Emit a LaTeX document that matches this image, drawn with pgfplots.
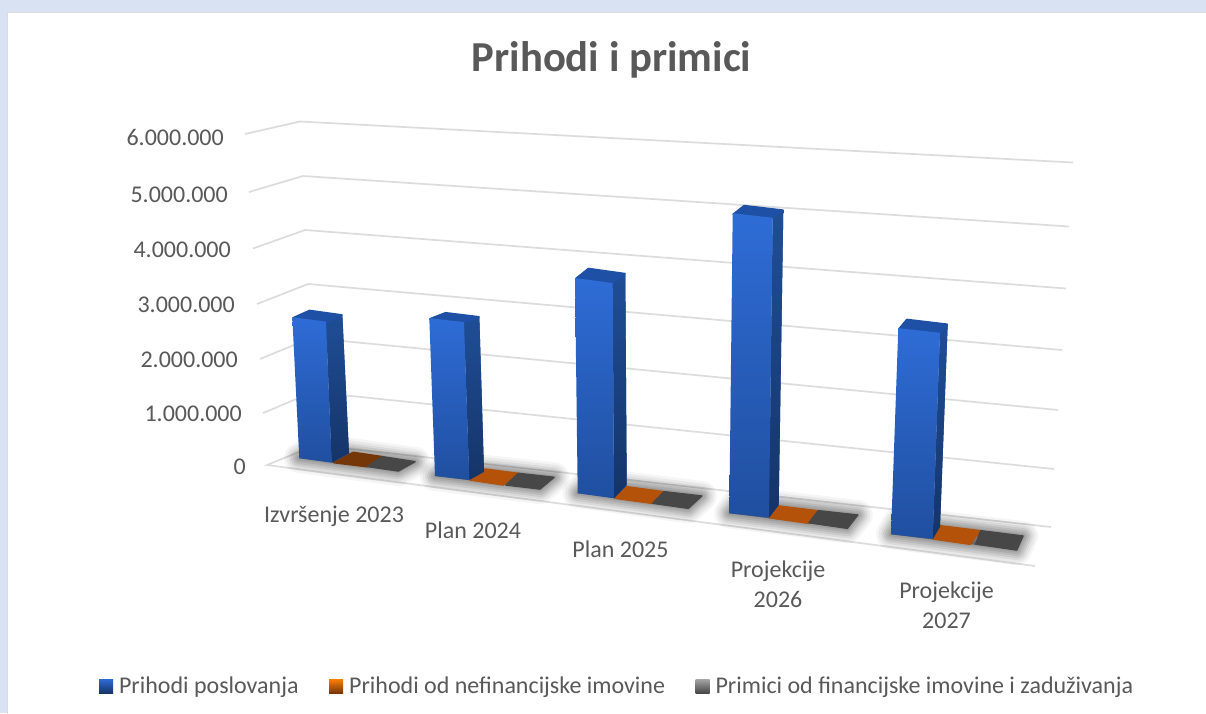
\documentclass[border=0pt]{standalone}
\usepackage{fontspec}
\setmainfont{Carlito}
\usepackage{pgfplots}
\pgfplotsset{compat=1.18}
\definecolor{txt}{HTML}{595959}
\definecolor{gridc}{HTML}{DCDCDC}
\definecolor{outer}{HTML}{D9E2F3}
\definecolor{fT}{HTML}{2E6CD6}
\definecolor{fB}{HTML}{204F9F}
\definecolor{sT}{HTML}{1F4E97}
\definecolor{sB}{HTML}{153468}
\definecolor{capc}{HTML}{1E50A6}
\definecolor{org}{HTML}{B5520A}
\definecolor{orgd}{HTML}{753608}
\definecolor{gry}{HTML}{474747}
% value in millions (#1), pixels per million on that bar's depth (#2)
\newcommand\setbar[2]{\pgfmathsetmacro\hh{#1*#2}}
% BLx BLy BRx BRy backx backy TLx TRx topbackx
\newcommand\drawbar[9]{%
  \pgfmathsetmacro\pa{#2-\hh}\pgfmathsetmacro\pb{#4-\hh}\pgfmathsetmacro\pc{#6-\hh*0.985}%
  \pgfmathsetmacro\pd{#7+#9-#8}\pgfmathsetmacro\pe{\pa+\pc-\pb}%
  \addplot[forget plot,fill=sT,draw=none,top color=sT,bottom color=sB] coordinates {(#8,\pb)(#9,\pc)(#5,#6)(#3,#4)} --cycle;
  \addplot[forget plot,fill=capc,draw=capc,line width=2.5pt,line join=round] coordinates {(#7+1,\pa+1)(\pd+1,\pe+1)(#9-1,\pc+1)(#8-1,\pb)} --cycle;
  \addplot[forget plot,draw=none,top color=fT,bottom color=fB] coordinates {(#7,\pa)(#8,\pb)(#3,#4)(#1,#2)} --cycle;
}
\newcommand\flatbar[9]{%
  \addplot[forget plot,fill=#1,draw=#1,line width=1.5pt,line join=round] coordinates {(#2,#3)(#4,#5)(#6,#7)(#8,#9)} --cycle;
}
\newcommand\barshadow[8]{%
  \addplot[forget plot,fill=black,fill opacity=.35,draw=none] coordinates {(#1,#2)(#3,#4)(#5,#6)(#7,#8)} --cycle;
  \addplot[forget plot,draw=black,draw opacity=.04,line width=30pt,line join=round] coordinates {(#1,#2)(#3,#4)(#5,#6)(#7,#8)} --cycle;
  \addplot[forget plot,draw=black,draw opacity=.05,line width=25pt,line join=round] coordinates {(#1,#2)(#3,#4)(#5,#6)(#7,#8)} --cycle;
  \addplot[forget plot,draw=black,draw opacity=.06,line width=20pt,line join=round] coordinates {(#1,#2)(#3,#4)(#5,#6)(#7,#8)} --cycle;
  \addplot[forget plot,draw=black,draw opacity=.07,line width=16pt,line join=round] coordinates {(#1,#2)(#3,#4)(#5,#6)(#7,#8)} --cycle;
  \addplot[forget plot,draw=black,draw opacity=.07,line width=12pt,line join=round] coordinates {(#1,#2)(#3,#4)(#5,#6)(#7,#8)} --cycle;
  \addplot[forget plot,draw=black,draw opacity=.08,line width=8pt,line join=round] coordinates {(#1,#2)(#3,#4)(#5,#6)(#7,#8)} --cycle;
  \addplot[forget plot,draw=black,draw opacity=.08,line width=4pt,line join=round] coordinates {(#1,#2)(#3,#4)(#5,#6)(#7,#8)} --cycle;
}
\begin{document}
\begin{tikzpicture}
\begin{axis}[
  scale only axis, width=1206pt, height=713pt,
  xmin=0, xmax=1206, ymin=0, ymax=713, y dir=reverse,
  hide axis, clip=true,
  legend columns=3,
  legend style={at={(axis cs:99,686)},anchor=west,draw=none,fill=none,
    font=\fontsize{24}{28}\selectfont\color{txt},
    /tikz/every even column/.append style={column sep=28.5pt},
    /tikz/every odd column/.append style={column sep=4pt},
    inner sep=0pt,outer sep=0pt},
]
% page background
\addplot[forget plot,fill=outer,draw=none] coordinates {(0,0)(1206,0)(1206,713)(0,713)} --cycle;
\addplot[forget plot,fill=white,draw=gridc,line width=1pt] coordinates {(7,12)(1210,12)(1210,720)(7,720)} --cycle;
% gridlines
\addplot[forget plot,gridc,line width=1.7pt] coordinates {(245,134)(300,121.5)(1073,162.5)};
\addplot[forget plot,gridc,line width=1.7pt] coordinates {(249,192)(303,176)(1069,226.5)};
\addplot[forget plot,gridc,line width=1.7pt] coordinates {(253,248.5)(305,230)(1066,288.5)};
\addplot[forget plot,gridc,line width=1.7pt] coordinates {(257,304)(308,284)(1062,350)};
\addplot[forget plot,gridc,line width=1.7pt] coordinates {(260,359)(311,338)(1058,410)};
\addplot[forget plot,gridc,line width=1.7pt] coordinates {(263,413)(313,392)(1054,469)};
\addplot[forget plot,gridc,line width=1.7pt] coordinates {(1035,566)(267,465)(316,445)(1051,527)};
% group 1
\barshadow{299}{458}{315}{448}{415}{462}{398}{471}
\flatbar{orgd}{333.7}{462.7}{353.3}{452.3}{382.7}{456.7}{366.7}{466.7}
\flatbar{gry}{367.3}{466.5}{382.7}{456.7}{415}{461.7}{398.3}{471}
\setbar{2.52}{56}
\drawbar{299.3}{458.3}{331.7}{462.7}{349}{453.3}{292.3}{326}{342.3}
% group 2
\barshadow{435}{476}{450}{466}{554}{477.3}{540}{489}
\flatbar{org}{470}{480}{485}{469}{518.3}{473.3}{503.3}{485}
\flatbar{gry}{506}{485}{518.3}{473.3}{554}{477.3}{540}{489}
\setbar{2.77}{57}
\drawbar{435}{476}{469.3}{480}{484}{471.7}{429.3}{464}{479.3}
% group 3
\barshadow{577.7}{493}{590}{482}{701.7}{496}{688.3}{508.3}
\flatbar{org}{615}{498.3}{626.7}{486.7}{664}{491.7}{651.7}{503.3}
\flatbar{gry}{652.7}{503.3}{664}{491.7}{701.7}{496}{688.3}{508.3}
\setbar{3.68}{58.5}
\drawbar{577.7}{493.3}{614}{498.3}{626.7}{485}{575}{612.7}{625.3}
% group 4
\barshadow{729.3}{513.3}{739}{501}{857.7}{515}{847.3}{528.3}
\flatbar{org}{769.3}{517.7}{778.7}{506}{817.3}{510.7}{808.3}{523.3}
\flatbar{gry}{809}{522.7}{818.3}{510.7}{857.7}{515}{847.3}{528.3}
\setbar{5.0}{60}
\drawbar{729.3}{513.3}{769}{517.7}{778.7}{505}{732.7}{772.7}{783.3}
% group 5
\barshadow{891}{534.3}{899}{521}{1023}{536}{1016.7}{550}
\flatbar{org}{933.3}{539}{940}{525.7}{980.7}{530.7}{970}{544.3}
\flatbar{gry}{975.7}{544}{980.7}{530.7}{1023}{536}{1016.7}{550}
\setbar{3.38}{61}
\drawbar{891}{534.3}{932.7}{539}{940}{526.7}{898.3}{940}{947.7}
% legend
\addlegendimage{legend image code/.code={\shade[top color=fT,bottom color=sB,draw=none] (0pt,-7pt) rectangle (14pt,7pt);}}
\addlegendentry{Prihodi poslovanja}
\addlegendimage{legend image code/.code={\shade[top color=orange,bottom color=orgd,draw=none] (0pt,-7pt) rectangle (14pt,7pt);}}
\addlegendentry{Prihodi od nefinancijske imovine}
\addlegendimage{legend image code/.code={\shade[top color=gray!70,bottom color=gry,draw=none] (0pt,-7pt) rectangle (14pt,7pt);}}
\addlegendentry{Primici od financijske imovine i zaduživanja}
% text
\node[text=txt,font=\bfseries\fontsize{42.7}{50}\selectfont] at (axis cs:611.5,59.5) {Prihodi i primici};
\tikzset{yl/.style={text=txt,anchor=east,font=\fontsize{24}{28}\selectfont,inner sep=0pt},cl/.style={text=txt,align=center,font=\fontsize{24}{30}\selectfont,inner sep=0pt}}
\node[yl] at (axis cs:224,137) {6.000.000};
\node[yl] at (axis cs:228,195) {5.000.000};
\node[yl] at (axis cs:231,250) {4.000.000};
\node[yl] at (axis cs:235,305) {3.000.000};
\node[yl] at (axis cs:238,360) {2.000.000};
\node[yl] at (axis cs:242,414) {1.000.000};
\node[yl] at (axis cs:246,467) {0};
\node[cl] at (axis cs:334,516) {Izvršenje 2023};
\node[cl] at (axis cs:473,530.5) {Plan 2024};
\node[cl] at (axis cs:620.5,549.5) {Plan 2025};
\node[cl] at (axis cs:778,584) {Projekcije\\2026};
\node[cl] at (axis cs:946.5,605) {Projekcije\\2027};
\end{axis}
\end{tikzpicture}
\end{document}
